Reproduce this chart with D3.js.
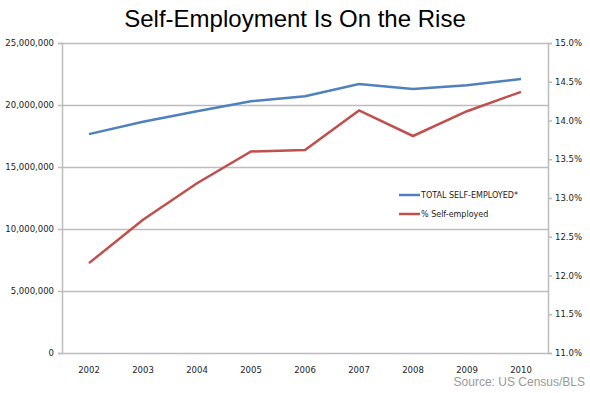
<!DOCTYPE html>
<html>
<head>
<meta charset="utf-8">
<script src="https://cdn.jsdelivr.net/npm/d3@7"></script>
<style>
  body { margin: 0; background: #fff; }
  .tick text { font-family: "DejaVu Sans", Verdana, sans-serif; font-size: 8.5px; fill: #222; }
</style>
</head>
<body>
<div id="chart"></div>
<script>
// data
var years = ["2002", "2003", "2004", "2005", "2006", "2007", "2008", "2009", "2010"];
var totalSelfEmployed = [17650000, 18650000, 19500000, 20300000, 20700000, 21700000, 21300000, 21600000, 22100000];
var pctSelfEmployed = [12.16, 12.72, 13.19, 13.60, 13.62, 14.13, 13.80, 14.12, 14.37];
var leftTicks = [0, 5000000, 10000000, 15000000, 20000000, 25000000];
var rightTicks = [11.0, 11.5, 12.0, 12.5, 13.0, 13.5, 14.0, 14.5, 15.0];

var width = 590, height = 393;
var margin = {top: 43, right: 42, bottom: 40, left: 62};
var w = width - margin.left - margin.right;
var h = height - margin.top - margin.bottom;

var svg = d3.select("#chart").append("svg")
  .attr("width", width)
  .attr("height", height);

svg.append("text")
  .attr("x", width / 2)
  .attr("y", 27)
  .attr("text-anchor", "middle")
  .style("font-family", "'Liberation Sans', Arial, sans-serif")
  .style("font-size", "24px")
  .text("Self-Employment Is On the Rise");

svg.append("text")
  .attr("x", 585)
  .attr("y", 386)
  .attr("text-anchor", "end")
  .style("font-family", "'Liberation Sans', Arial, sans-serif")
  .style("font-size", "12px")
  .style("fill", "#999")
  .text("Source: US Census/BLS");

var g = svg.append("g")
  .attr("transform", "translate(" + margin.left + "," + margin.top + ")");

var x = d3.scaleBand().domain(years).range([0, w]);
var yL = d3.scaleLinear().domain([0, 25000000]).range([h, 0]);
var yR = d3.scaleLinear().domain([11, 15]).range([h, 0]);

var gridColor = "#bdbdbd";

// horizontal gridlines
g.selectAll(".grid")
  .data(leftTicks)
  .enter().append("line")
  .attr("x1", 0).attr("x2", w)
  .attr("y1", function(d) { return Math.round(yL(d)) + 0.5; })
  .attr("y2", function(d) { return Math.round(yL(d)) + 0.5; })
  .attr("stroke", gridColor)
  .attr("stroke-width", 1.5);

// left axis
var leftAxis = g.append("g")
  .call(d3.axisLeft(yL).tickValues(leftTicks).tickSize(4).tickPadding(4)
    .tickFormat(d3.format(",")));

// right axis
var rightAxis = g.append("g")
  .attr("transform", "translate(" + w + ",0)")
  .call(d3.axisRight(yR).tickValues(rightTicks).tickSize(4).tickPadding(3)
    .tickFormat(function(d) { return d.toFixed(1) + "%"; }));

// bottom axis (labels only)
var bottomAxis = g.append("g")
  .attr("transform", "translate(0," + h + ")")
  .call(d3.axisBottom(x).tickSize(0).tickPadding(14));

[leftAxis, rightAxis, bottomAxis].forEach(function(a) {
  a.selectAll(".domain").attr("stroke", gridColor).attr("stroke-width", 1.5);
  a.selectAll(".tick line").attr("stroke", gridColor).attr("stroke-width", 1.5);
});
bottomAxis.select(".domain").remove();

var cx = function(d, i) { return x(years[i]) + x.bandwidth() / 2; };

var lineL = d3.line()
  .x(function(d, i) { return cx(d, i); })
  .y(function(d) { return yL(d); });

var lineR = d3.line()
  .x(function(d, i) { return cx(d, i); })
  .y(function(d) { return yR(d); });

g.append("path")
  .datum(totalSelfEmployed)
  .attr("d", lineL)
  .attr("fill", "none")
  .attr("stroke", "#4F81BD")
  .attr("stroke-width", 2.5);

g.append("path")
  .datum(pctSelfEmployed)
  .attr("d", lineR)
  .attr("fill", "none")
  .attr("stroke", "#C0504D")
  .attr("stroke-width", 2.5);

// legend
var legend = [
  {label: "TOTAL SELF-EMPLOYED*", color: "#4F81BD"},
  {label: "% Self-employed", color: "#C0504D"}
];
var lg = svg.append("g").attr("transform", "translate(399,195)");
legend.forEach(function(d, i) {
  lg.append("line")
    .attr("x1", 0).attr("x2", 21)
    .attr("y1", i * 19).attr("y2", i * 19)
    .attr("stroke", d.color)
    .attr("stroke-width", 2.5);
  lg.append("text")
    .attr("x", 22)
    .attr("y", i * 19 + 3)
    .style("font-family", "'DejaVu Sans', Verdana, sans-serif")
    .style("font-size", "8px")
    .style("fill", "#222")
    .text(d.label);
});
</script>
</body>
</html>
